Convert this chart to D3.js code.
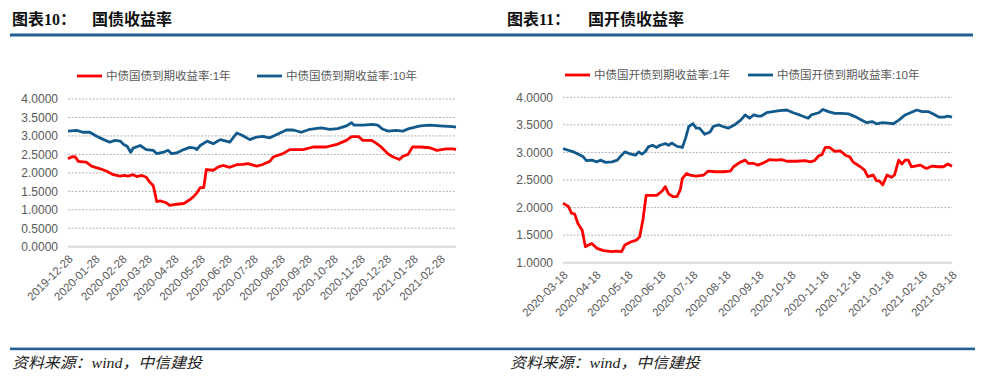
<!DOCTYPE html>
<html><head><meta charset="utf-8">
<script src="https://cdn.jsdelivr.net/npm/d3@7/dist/d3.min.js"></script>
<style>
body{margin:0;background:#fff;}
svg{display:block;}
</style></head>
<body>
<svg id="c" width="1002" height="390"></svg>
<script>
// ---------- DATA ----------
const leftTitleNo = "图表10：";
const leftTitle = "国债收益率";
const rightTitleNo = "图表11：";
const rightTitle = "国开债收益率";
const sourceText = "资料来源：wind，中信建投";

const leftSeriesNames = ["中债国债到期收益率:1年", "中债国债到期收益率:10年"];
const rightSeriesNames = ["中债国开债到期收益率:1年", "中债国开债到期收益率:10年"];

const leftXTicks = ["2019-12-28","2020-01-28","2020-02-28","2020-03-28","2020-04-28","2020-05-28","2020-06-28","2020-07-28","2020-08-28","2020-09-28","2020-10-28","2020-11-28","2020-12-28","2021-01-28","2021-02-28"];
const rightXTicks = ["2020-03-18","2020-04-18","2020-05-18","2020-06-18","2020-07-18","2020-08-18","2020-09-18","2020-10-18","2020-11-18","2020-12-18","2021-01-18","2021-02-18","2021-03-18"];
const leftYTicks = [0,0.5,1,1.5,2,2.5,3,3.5,4];
const rightYTicks = [1,1.5,2,2.5,3,3.5,4];

const cgb1y = [["2019-12-28",2.38],["2020-01-01",2.43],["2020-01-05",2.44],["2020-01-09",2.31],["2020-01-14",2.30],["2020-01-18",2.29],["2020-01-24",2.18],["2020-02-03",2.11],["2020-02-10",2.05],["2020-02-18",1.95],["2020-02-26",1.91],["2020-03-02",1.93],["2020-03-06",1.91],["2020-03-12",1.95],["2020-03-16",1.90],["2020-03-22",1.93],["2020-03-27",1.88],["2020-03-31",1.75],["2020-04-04",1.65],["2020-04-06",1.45],["2020-04-08",1.22],["2020-04-12",1.24],["2020-04-19",1.19],["2020-04-23",1.12],["2020-05-01",1.15],["2020-05-09",1.17],["2020-05-16",1.27],["2020-05-20",1.35],["2020-05-24",1.45],["2020-05-28",1.60],["2020-06-01",1.60],["2020-06-04",2.09],["2020-06-12",2.07],["2020-06-18",2.16],["2020-06-23",2.20],["2020-07-01",2.15],["2020-07-09",2.22],["2020-07-16",2.23],["2020-07-22",2.25],["2020-08-01",2.18],["2020-08-07",2.22],["2020-08-16",2.31],["2020-08-20",2.43],["2020-08-31",2.52],["2020-09-08",2.63],["2020-09-23",2.63],["2020-10-05",2.70],["2020-10-20",2.70],["2020-11-01",2.77],["2020-11-12",2.88],["2020-11-18",2.98],["2020-11-26",2.98],["2020-12-01",2.88],["2020-12-11",2.88],["2020-12-17",2.79],["2020-12-22",2.70],["2020-12-30",2.51],["2021-01-05",2.43],["2021-01-12",2.36],["2021-01-16",2.45],["2021-01-22",2.50],["2021-01-27",2.70],["2021-02-05",2.70],["2021-02-16",2.68],["2021-02-24",2.61],["2021-03-07",2.65],["2021-03-15",2.65],["2021-03-18",2.63]];

const cgb10y = [["2019-12-28",3.13],["2020-01-07",3.15],["2020-01-14",3.10],["2020-01-22",3.10],["2020-01-30",2.99],["2020-02-07",2.90],["2020-02-14",2.83],["2020-02-20",2.88],["2020-02-26",2.86],["2020-03-01",2.77],["2020-03-05",2.72],["2020-03-09",2.56],["2020-03-12",2.67],["2020-03-20",2.74],["2020-03-27",2.63],["2020-04-04",2.61],["2020-04-08",2.52],["2020-04-16",2.56],["2020-04-21",2.61],["2020-04-25",2.52],["2020-05-01",2.54],["2020-05-09",2.63],["2020-05-16",2.69],["2020-05-22",2.67],["2020-05-24",2.63],["2020-05-28",2.74],["2020-06-05",2.86],["2020-06-12",2.79],["2020-06-20",2.90],["2020-07-01",2.83],["2020-07-09",3.08],["2020-07-15",3.02],["2020-07-24",2.90],["2020-08-01",2.97],["2020-08-08",2.99],["2020-08-16",2.95],["2020-08-24",3.04],["2020-09-04",3.16],["2020-09-12",3.16],["2020-09-21",3.10],["2020-10-01",3.18],["2020-10-14",3.22],["2020-10-24",3.18],["2020-11-02",3.20],["2020-11-12",3.27],["2020-11-18",3.36],["2020-11-21",3.29],["2020-12-01",3.29],["2020-12-12",3.31],["2020-12-18",3.29],["2020-12-24",3.18],["2020-12-30",3.13],["2021-01-08",3.15],["2021-01-16",3.13],["2021-01-23",3.20],["2021-02-05",3.27],["2021-02-16",3.29],["2021-02-27",3.27],["2021-03-14",3.25],["2021-03-18",3.24]];

const cdb1y = [["2020-03-18",2.08],["2020-03-23",2.02],["2020-03-26",1.90],["2020-03-29",1.88],["2020-04-01",1.71],["2020-04-05",1.59],["2020-04-08",1.29],["2020-04-11",1.32],["2020-04-14",1.35],["2020-04-19",1.26],["2020-04-25",1.22],["2020-05-03",1.20],["2020-05-07",1.21],["2020-05-12",1.20],["2020-05-15",1.32],["2020-05-21",1.38],["2020-05-26",1.41],["2020-05-29",1.47],["2020-05-31",1.68],["2020-06-01",1.78],["2020-06-04",2.22],["2020-06-08",2.22],["2020-06-14",2.22],["2020-06-19",2.30],["2020-06-22",2.38],["2020-06-25",2.25],["2020-06-29",2.20],["2020-07-03",2.20],["2020-07-06",2.32],["2020-07-08",2.53],["2020-07-12",2.62],["2020-07-15",2.59],["2020-07-21",2.57],["2020-07-28",2.59],["2020-08-01",2.66],["2020-08-08",2.65],["2020-08-15",2.65],["2020-08-22",2.66],["2020-08-25",2.74],["2020-08-31",2.82],["2020-09-05",2.86],["2020-09-08",2.80],["2020-09-13",2.80],["2020-09-17",2.77],["2020-09-22",2.81],["2020-09-28",2.87],["2020-10-04",2.86],["2020-10-09",2.87],["2020-10-14",2.84],["2020-10-23",2.84],["2020-10-31",2.85],["2020-11-05",2.83],["2020-11-09",2.85],["2020-11-13",2.94],["2020-11-16",2.96],["2020-11-19",3.09],["2020-11-23",3.09],["2020-11-28",3.02],["2020-12-03",3.03],["2020-12-08",2.95],["2020-12-12",2.92],["2020-12-15",2.83],["2020-12-22",2.74],["2020-12-26",2.68],["2020-12-29",2.56],["2021-01-03",2.59],["2021-01-06",2.49],["2021-01-09",2.48],["2021-01-12",2.41],["2021-01-16",2.59],["2021-01-20",2.55],["2021-01-23",2.59],["2021-01-27",2.86],["2021-01-30",2.79],["2021-02-02",2.86],["2021-02-05",2.86],["2021-02-08",2.74],["2021-02-16",2.77],["2021-02-22",2.71],["2021-02-27",2.75],["2021-03-05",2.74],["2021-03-10",2.74],["2021-03-14",2.79],["2021-03-18",2.75]];

const cdb10y = [["2020-03-18",3.07],["2020-03-23",3.04],["2020-03-28",3.01],["2020-04-01",2.97],["2020-04-06",2.92],["2020-04-09",2.85],["2020-04-14",2.86],["2020-04-19",2.83],["2020-04-22",2.86],["2020-04-27",2.82],["2020-05-03",2.83],["2020-05-08",2.86],["2020-05-12",2.95],["2020-05-15",3.01],["2020-05-19",2.98],["2020-05-25",2.95],["2020-05-28",3.01],["2020-05-31",2.97],["2020-06-03",3.01],["2020-06-06",3.10],["2020-06-10",3.13],["2020-06-14",3.09],["2020-06-17",3.13],["2020-06-22",3.16],["2020-06-25",3.13],["2020-06-28",3.17],["2020-07-03",3.11],["2020-07-08",3.09],["2020-07-11",3.26],["2020-07-14",3.47],["2020-07-18",3.52],["2020-07-21",3.44],["2020-07-24",3.44],["2020-07-29",3.33],["2020-08-03",3.37],["2020-08-06",3.47],["2020-08-11",3.50],["2020-08-15",3.47],["2020-08-20",3.44],["2020-08-26",3.50],["2020-09-01",3.59],["2020-09-05",3.68],["2020-09-09",3.62],["2020-09-13",3.68],["2020-09-17",3.66],["2020-09-20",3.66],["2020-09-25",3.72],["2020-10-01",3.74],["2020-10-07",3.76],["2020-10-14",3.77],["2020-10-20",3.72],["2020-10-26",3.68],["2020-11-03",3.62],["2020-11-06",3.68],["2020-11-13",3.72],["2020-11-17",3.78],["2020-11-22",3.74],["2020-11-28",3.71],["2020-12-04",3.71],["2020-12-11",3.70],["2020-12-17",3.65],["2020-12-23",3.59],["2020-12-28",3.54],["2021-01-02",3.56],["2021-01-06",3.52],["2021-01-12",3.54],["2021-01-17",3.53],["2021-01-22",3.52],["2021-01-25",3.56],["2021-01-28",3.60],["2021-02-02",3.68],["2021-02-07",3.72],["2021-02-13",3.77],["2021-02-18",3.74],["2021-02-24",3.74],["2021-02-28",3.70],["2021-03-06",3.64],["2021-03-11",3.64],["2021-03-14",3.66],["2021-03-18",3.64]];

// ---------- DRAW ----------
const RED = "#ff0000", BLUE = "#135a8c", TXT = "#595959";
const parse = d3.timeParse("%Y-%m-%d");
const svg = d3.select("#c");

// header / footer rules
svg.append("rect").attr("x",10).attr("y",33.5).attr("width",963).attr("height",3).attr("fill","#245f94");
svg.append("rect").attr("x",10).attr("y",347).attr("width",965).attr("height",1).attr("fill","#9dbbd9");
svg.append("rect").attr("x",10).attr("y",348).attr("width",965).attr("height",2.2).attr("fill","#245f94");

function title(x1, t1, x2, t2){
  svg.append("text").attr("x",x1).attr("y",25).text(t1)
    .style("font-family","'Liberation Serif','Noto Sans CJK SC'").style("font-weight","bold").style("font-size","16px").attr("fill","#111");
  svg.append("text").attr("x",x2).attr("y",25).text(t2)
    .style("font-family","'Noto Sans CJK SC'").style("font-weight","bold").style("font-size","16px").attr("fill","#111");
}
title(12, leftTitleNo, 92, leftTitle);
title(507, rightTitleNo, 588, rightTitle);

function source(x){
  svg.append("text").attr("x",x).attr("y",368).text(sourceText)
    .attr("textLength",190).attr("lengthAdjust","spacingAndGlyphs")
    .style("font-family","'Liberation Serif','Noto Sans CJK SC'").style("font-style","italic").style("font-size","15px").attr("fill","#222");
}
source(12); source(510);

function chart(o){
  const x = d3.scaleTime().domain([parse(o.start), parse(o.end)]).range([o.x0, o.x1]);
  const y = d3.scaleLinear().domain(o.yDomain).range([o.y0, o.y1]);
  const g = svg.append("g");
  // gridlines
  g.selectAll("line.grid").data(o.yTicks.filter(v=>v!==o.yDomain[0])).enter().append("line")
    .attr("x1",o.x0).attr("x2",o.x1).attr("y1",d=>y(d)).attr("y2",d=>y(d))
    .attr("stroke","#a0a0a0").attr("stroke-width",0.8).attr("stroke-dasharray","2,1.5");
  g.append("line").attr("x1",o.x0).attr("x2",o.x1).attr("y1",y(o.yDomain[0])).attr("y2",y(o.yDomain[0]))
    .attr("stroke","#d9d9d9").attr("stroke-width",2);
  // y axis labels
  const ya = g.append("g").attr("transform",`translate(${o.x0},0)`)
    .call(d3.axisLeft(y).tickValues(o.yTicks).tickFormat(d3.format(".4f")).tickSize(0).tickPadding(10));
  ya.select(".domain").remove();
  ya.selectAll("text").style("font-family","'Liberation Sans',Arial").style("font-size","12px").attr("fill",TXT);
  // x axis labels
  const xa = g.append("g").attr("transform",`translate(0,${o.y0})`)
    .call(d3.axisBottom(x).tickValues(o.xTicks.map(parse)).tickFormat(d3.timeFormat("%Y-%m-%d")).tickSize(0));
  xa.select(".domain").remove();
  xa.selectAll("text").style("font-family","'Liberation Sans',Arial").style("font-size","11.5px").attr("fill",TXT)
    .attr("text-anchor","end").attr("dy",null).attr("y",0)
    .attr("transform","translate(5,13) rotate(-45)");
  // lines
  const line = d3.line().x(d=>x(parse(d[0]))).y(d=>y(d[1]));
  g.append("path").datum(o.s1).attr("d",line).attr("fill","none").attr("stroke",RED).attr("stroke-width",2.8).attr("stroke-linejoin","round");
  g.append("path").datum(o.s2).attr("d",line).attr("fill","none").attr("stroke",BLUE).attr("stroke-width",2.8).attr("stroke-linejoin","round");
  // legend
  [[o.leg1, RED, o.names[0]],[o.leg2, BLUE, o.names[1]]].forEach(([lx,c,n])=>{
    g.append("line").attr("x1",lx).attr("x2",lx+25).attr("y1",o.legY).attr("y2",o.legY).attr("stroke",c).attr("stroke-width",2.8);
    g.append("text").attr("x",lx+29).attr("y",o.legY+4).text(n)
      .style("font-family","'Liberation Sans','Noto Sans CJK SC'").style("font-size","11.5px").attr("fill",TXT);
  });
}

chart({start:"2019-12-28", end:"2021-03-18", x0:68, x1:456, y0:246.7, y1:99, yDomain:[0,4], yTicks:leftYTicks, xTicks:leftXTicks,
  s1:cgb1y, s2:cgb10y, names:leftSeriesNames, leg1:77, leg2:257, legY:76});
chart({start:"2020-03-18", end:"2021-03-18", x0:563, x1:952, y0:262.7, y1:97.3, yDomain:[1,4], yTicks:rightYTicks, xTicks:rightXTicks,
  s1:cdb1y, s2:cdb10y, names:rightSeriesNames, leg1:565, leg2:748, legY:75});
</script>
</body></html>
